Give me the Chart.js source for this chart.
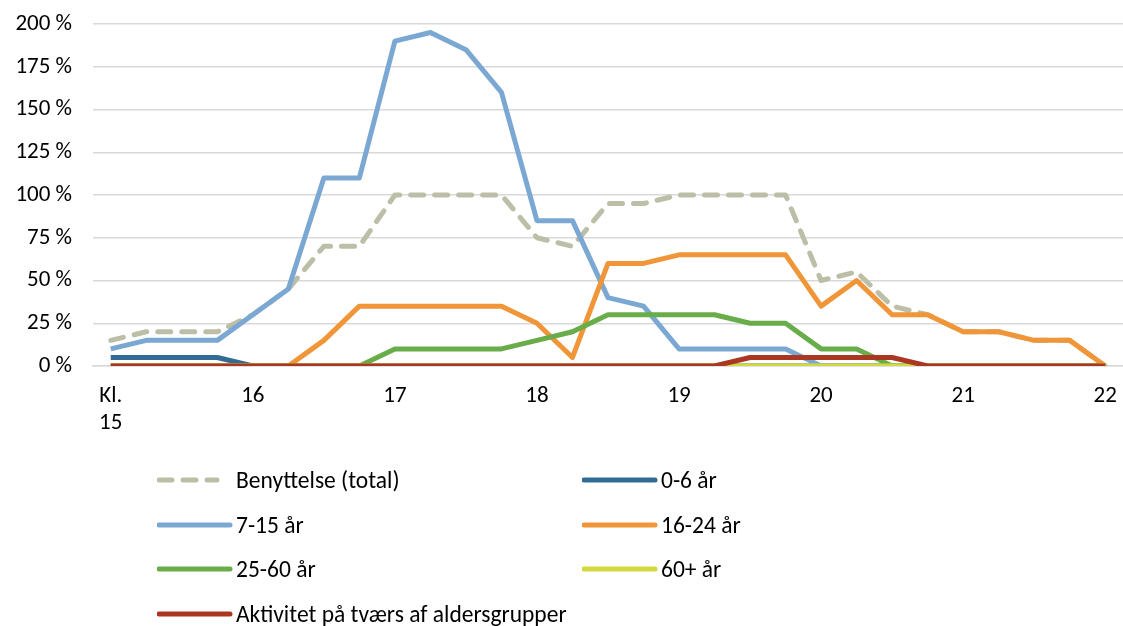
<!DOCTYPE html>
<html>
<head>
<meta charset="utf-8">
<script src="https://cdn.jsdelivr.net/npm/chart.js@4/dist/chart.umd.min.js"></script>
<style>
  html, body { margin: 0; padding: 0; background: #fff; }
  #wrap { position: relative; width: 1123px; height: 626px; }
  #chart1 { position: absolute; left: 0; top: 0; }
  #legend { position: absolute; left: 157px; top: 458px; width: 966px;
    display: grid; grid-template-columns: 425px 400px; grid-auto-rows: 44.7px;
    font-family: Carlito, Lato, sans-serif; font-size: 23.5px; color: #000; }
  .item { display: flex; align-items: center; height: 44px; white-space: nowrap; }
  .item svg { flex: none; margin-right: 3px; }
</style>
</head>
<body>
<div id="wrap">
  <canvas id="chart1" width="1123" height="626"></canvas>
  <div id="legend"></div>
</div>
<script>
'use strict'

const categories = ['15:00', '15:15', '15:30', '15:45', '16:00', '16:15', '16:30', '16:45',
	'17:00', '17:15', '17:30', '17:45', '18:00', '18:15', '18:30', '18:45',
	'19:00', '19:15', '19:30', '19:45', '20:00', '20:15', '20:30', '20:45',
	'21:00', '21:15', '21:30', '21:45', '22:00']
const hourLabels = [['Kl.', '15'], '16', '17', '18', '19', '20', '21', '22']

const total    = [15, 20, 20, 20, 30, 45, 70, 70, 100, 100, 100, 100, 75, 70, 95, 95, 100, 100, 100, 100, 50, 55, 35, 30, 20, 20, 15, 15, 0]
const age0_6   = [5, 5, 5, 5, 0, 0, 0, 0, 0, 0, 0, 0, 0, 0, 0, 0, 0, 0, 0, 0, 0, 0, 0, 0, 0, 0, 0, 0, 0]
const age7_15  = [10, 15, 15, 15, 30, 45, 110, 110, 190, 195, 185, 160, 85, 85, 40, 35, 10, 10, 10, 10, 0, 0, 0, 0, 0, 0, 0, 0, 0]
const age16_24 = [0, 0, 0, 0, 0, 0, 15, 35, 35, 35, 35, 35, 25, 5, 60, 60, 65, 65, 65, 65, 35, 50, 30, 30, 20, 20, 15, 15, 0]
const age25_60 = [0, 0, 0, 0, 0, 0, 0, 0, 10, 10, 10, 10, 15, 20, 30, 30, 30, 30, 25, 25, 10, 10, 0, 0, 0, 0, 0, 0, 0]
const age60    = [0, 0, 0, 0, 0, 0, 0, 0, 0, 0, 0, 0, 0, 0, 0, 0, 0, 0, 0, 0, 0, 0, 0, 0, 0, 0, 0, 0, 0]
const across   = [0, 0, 0, 0, 0, 0, 0, 0, 0, 0, 0, 0, 0, 0, 0, 0, 0, 0, 5, 5, 5, 5, 5, 0, 0, 0, 0, 0, 0]

const FONT = 'Carlito, Lato, sans-serif'

const line = function(label, data, color, order, dash) {
	return {
		label: label,
		data: data,
		borderColor: color,
		backgroundColor: color,
		borderWidth: 5,
		borderDash: dash || [],
		borderCapStyle: dash ? 'round' : 'butt',
		borderJoinStyle: 'round',
		pointRadius: 0,
		tension: 0,
		order: order
	}
}

const datasets = [
	line('Benyttelse (total)', total, '#bdbea7', 6, [13, 11]),
	line('0-6 år', age0_6, '#326b94', 5),
	line('7-15 år', age7_15, '#7aa8d3', 4),
	line('16-24 år', age16_24, '#f09538', 3),
	line('25-60 år', age25_60, '#68ad4a', 2),
	line('60+ år', age60, '#d3d93c', 1),
	line('Aktivitet på tværs af aldersgrupper', across, '#a93722', 0)
]

const ctx = document.getElementById('chart1').getContext('2d')
const chart = new Chart(ctx, {
	type: 'line',
	data: { labels: categories, datasets: datasets },
	options: {
		responsive: false,
		animation: false,
		layout: { padding: { top: 24, right: 0, bottom: 180, left: 0 } },
		plugins: {
			legend: { display: false },
			tooltip: { enabled: false }
		},
		scales: {
			x: {
				offset: true,
				grid: { display: false, drawTicks: false },
				border: { display: true, color: '#d9d9d9', width: 1.5 },
				afterFit: function(scale) {
					scale.height = 80
					scale.paddingLeft = 0
					scale.paddingRight = 0
				},
				ticks: {
					autoSkip: false,
					maxRotation: 0,
					padding: 16,
					color: '#000',
					font: { family: FONT, size: 23 },
					callback: function(value, index) {
						return index % 4 === 0 ? hourLabels[index / 4] : ''
					}
				}
			},
			y: {
				min: 0,
				max: 200,
				grid: { color: '#d9d9d9', lineWidth: 1.5, drawTicks: false },
				border: { display: false },
				afterFit: function(scale) {
					scale.width = 93
					scale.paddingTop = 0
					scale.paddingBottom = 0
				},
				ticks: {
					stepSize: 25,
					padding: 21,
					color: '#000',
					font: { family: FONT, size: 23 },
					callback: function(value) { return value + ' %' }
				}
			}
		}
	}
})

// legend in two columns, as in the original
const legendEl = document.getElementById('legend')
datasets.forEach(function(ds) {
	const item = document.createElement('div')
	item.className = 'item'
	const dash = ds.borderDash.length ? ds.borderDash.join(' ') : 'none'
	const x2 = ds.borderDash.length ? 60 : 73
	item.innerHTML = '<svg width="76" height="10"><line x1="2" y1="5" x2="' + x2 + '" y2="5" stroke="' +
		ds.borderColor + '" stroke-width="5" stroke-linecap="round" stroke-dasharray="' + dash + '"/></svg>' +
		'<span></span>'
	item.querySelector('span').textContent = ds.label
	legendEl.appendChild(item)
})
</script>
</body>
</html>
